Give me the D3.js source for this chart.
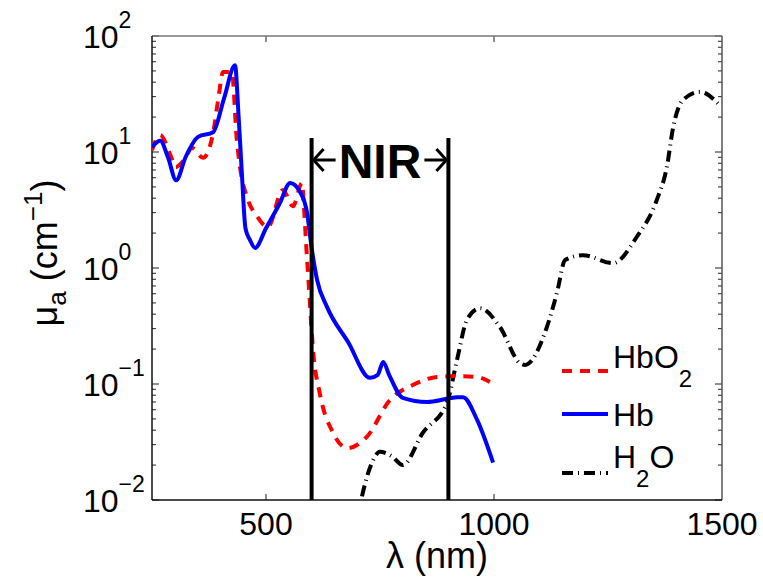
<!DOCTYPE html>
<html>
<head>
<meta charset="utf-8">
<script src="https://cdn.jsdelivr.net/npm/d3@7"></script>
<style>
  html, body { margin: 0; padding: 0; background: #fff; }
  svg { display: block; font-family: "Liberation Sans", Arial, Helvetica, sans-serif; }
</style>
</head>
<body>
<svg id="chart" width="763" height="578"></svg>
<script>
// Absorption spectra: wavelength (nm) and absorption coefficient (cm^-1)
const hbo2Wavelength = [250, 268, 290, 302, 320, 338, 362, 384, 395, 406, 425, 436, 443, 460, 480, 504, 537, 559, 579, 583, 588, 593, 597, 603, 618, 647, 678, 721, 772, 822, 875, 919, 963, 991];
const hbo2Mua        = [10.4, 14, 9.5, 7.4, 8.5, 10.8, 8.9, 14.6, 28, 49, 49, 12.7, 7.4, 3.9, 2.8, 2.25, 4.7, 3.4, 5.4, 3.5, 1.6, 0.8, 0.45, 0.2, 0.083, 0.038, 0.028, 0.035, 0.073, 0.098, 0.115, 0.117, 0.115, 0.104];

const hbWavelength = [250, 268, 285, 303, 324, 351, 384, 408, 432, 440, 447, 455, 465, 476, 500, 530, 553, 575, 590, 600, 612, 634, 680, 728, 745, 757, 770, 800, 853, 900, 919, 932, 963, 998];
const hbMua        = [11, 12.5, 9, 5.7, 9.1, 13.5, 14.8, 29, 56, 20, 6.6, 2.2, 1.74, 1.49, 2.2, 3.6, 5.4, 4.5, 3.0, 1.5, 0.79, 0.46, 0.23, 0.113, 0.12, 0.155, 0.12, 0.076, 0.07, 0.075, 0.077, 0.077, 0.049, 0.021];

const h2oWavelength = [700, 728, 750, 775, 800, 844, 897, 919, 941, 969, 1013, 1057, 1068, 1116, 1138, 1156, 1195, 1261, 1313, 1357, 1379, 1393, 1414, 1452, 1496];
const h2oMua        = [0.007, 0.019, 0.026, 0.024, 0.020, 0.038, 0.069, 0.162, 0.36, 0.45, 0.31, 0.151, 0.146, 0.31, 0.61, 1.17, 1.29, 1.10, 1.85, 3.86, 7.4, 16.4, 28, 33, 25];

const xTicks = [500, 1000, 1500];
const yDecades = [-2, -1, 0, 1, 2];
const nirBounds = [600, 900];
const legendLabels = [["Hb", "O", "2"], ["Hb"], ["H", "2", "O"]];

const svg = d3.select("#chart");
const plotLeft = 152, plotRight = 722, plotTop = 36, plotBottom = 500;

const x = d3.scaleLinear().domain([250, 1500]).range([plotLeft, plotRight]);
const y = d3.scaleLog().domain([1e-2, 1e2]).range([plotBottom, plotTop]);

svg.append("defs").append("clipPath").attr("id", "plotClip")
  .append("rect").attr("x", plotLeft).attr("y", plotTop)
  .attr("width", plotRight - plotLeft).attr("height", plotBottom - plotTop);

// minor + major log ticks, drawn inward on left and right
const yMinor = [];
for (let e = -2; e < 2; e++) for (let m = 2; m <= 9; m++) yMinor.push(m * Math.pow(10, e));
const yMajor = yDecades.map(e => Math.pow(10, e));

const tickG = svg.append("g").attr("stroke", "#222").attr("stroke-width", 1);
[[plotLeft, 1], [plotRight, -1]].forEach(([xe, dir]) => {
  tickG.selectAll(null).data(yMinor).enter().append("line")
    .attr("x1", xe).attr("x2", xe + dir * 4)
    .attr("y1", d => y(d)).attr("y2", d => y(d));
  tickG.selectAll(null).data(yMajor).enter().append("line")
    .attr("x1", xe).attr("x2", xe + dir * 7)
    .attr("y1", d => y(d)).attr("y2", d => y(d));
});
[[plotBottom, -1], [plotTop, 1]].forEach(([ye, dir]) => {
  tickG.selectAll(null).data(xTicks.slice(0, 2)).enter().append("line")
    .attr("x1", d => x(d)).attr("x2", d => x(d))
    .attr("y1", ye).attr("y2", ye + dir * 6);
});

// frame
svg.append("line").attr("x1", plotLeft).attr("x2", plotRight).attr("y1", plotTop).attr("y2", plotTop)
  .attr("stroke", "#777").attr("stroke-width", 1.5);
svg.append("line").attr("x1", plotRight).attr("x2", plotRight).attr("y1", plotTop).attr("y2", plotBottom)
  .attr("stroke", "#555").attr("stroke-width", 1.5);
svg.append("line").attr("x1", plotLeft).attr("x2", plotLeft).attr("y1", plotTop).attr("y2", plotBottom)
  .attr("stroke", "#111").attr("stroke-width", 1.5);
svg.append("line").attr("x1", plotLeft).attr("x2", plotRight).attr("y1", plotBottom).attr("y2", plotBottom)
  .attr("stroke", "#111").attr("stroke-width", 1.5);

// y tick labels 10^n
const yLab = svg.append("g").attr("font-size", 32).attr("fill", "#000");
yDecades.forEach(e => {
  const t = yLab.append("text").attr("x", 83).attr("y", y(Math.pow(10, e)) + 12);
  t.append("tspan").text("10");
  t.append("tspan").attr("font-size", 23).attr("dy", -20)
    .text(e < 0 ? "\u2212" + Math.abs(e) : String(e));
});

// x tick labels
svg.append("g").attr("font-size", 32).attr("text-anchor", "middle")
  .selectAll("text").data(xTicks).enter().append("text")
  .attr("x", d => x(d)).attr("y", 535).text(d => d);

// axis titles
svg.append("text").attr("x", x(875)).attr("y", 568).attr("font-size", 36)
  .attr("text-anchor", "middle").text("\u03bb (nm)");

const yt = svg.append("text").attr("transform", "translate(57,253) rotate(-90)")
  .attr("font-size", 36).attr("text-anchor", "middle");
yt.append("tspan").text("\u03bc");
yt.append("tspan").attr("font-size", 26).attr("dy", 9).text("a");
yt.append("tspan").attr("dy", -9).text(" (cm");
yt.append("tspan").attr("font-size", 26).attr("dy", -15).text("\u22121");
yt.append("tspan").attr("dy", 15).text(")");

// spectra
const series = [
  { wl: hbo2Wavelength, mu: hbo2Mua, color: "#ff0000", dash: "10,8" },
  { wl: hbWavelength,   mu: hbMua,   color: "#0000ff", dash: null },
  { wl: h2oWavelength,  mu: h2oMua,  color: "#000000", dash: "11,5,1,5" }
];
const line = d3.line().x(d => x(d[0])).y(d => y(d[1])).curve(d3.curveMonotoneX);
const plotG = svg.append("g").attr("clip-path", "url(#plotClip)");
[series[2], series[0], series[1]].forEach(s => {
  plotG.append("path")
    .datum(d3.zip(s.wl, s.mu))
    .attr("d", line)
    .attr("fill", "none")
    .attr("stroke", s.color)
    .attr("stroke-width", 4)
    .attr("stroke-dasharray", s.dash);
});

// NIR window
const nirTop = 138, arrowY = 160;
const nirG = svg.append("g").attr("stroke", "#000").attr("fill", "none");
nirBounds.forEach(w => {
  nirG.append("line").attr("x1", x(w)).attr("x2", x(w))
    .attr("y1", nirTop).attr("y2", plotBottom).attr("stroke-width", 4);
});
const xl = x(nirBounds[0]) + 2, xr = x(nirBounds[1]) - 2;
nirG.append("line").attr("x1", xl).attr("x2", xl + 22).attr("y1", arrowY).attr("y2", arrowY).attr("stroke-width", 3);
nirG.append("path").attr("d", `M${xl + 10},${arrowY - 11} L${xl},${arrowY} L${xl + 10},${arrowY + 11}`).attr("stroke-width", 3);
nirG.append("line").attr("x1", xr - 22).attr("x2", xr).attr("y1", arrowY).attr("y2", arrowY).attr("stroke-width", 3);
nirG.append("path").attr("d", `M${xr - 10},${arrowY - 11} L${xr},${arrowY} L${xr - 10},${arrowY + 11}`).attr("stroke-width", 3);
svg.append("text").attr("x", (x(nirBounds[0]) + x(nirBounds[1])) / 2).attr("y", 178)
  .attr("text-anchor", "middle").attr("font-size", 48).attr("font-weight", "bold")
  .text("NIR");

// legend
const legY = [371, 414, 473];
const legG = svg.append("g");
series.forEach((s, i) => {
  legG.append("line").attr("x1", 562).attr("x2", 608)
    .attr("y1", legY[i]).attr("y2", legY[i])
    .attr("stroke", s.color).attr("stroke-width", 4)
    .attr("stroke-dasharray", s.dash);
});
const legText = (yb, parts) => {
  const t = legG.append("text").attr("x", 613).attr("y", yb).attr("font-size", 32);
  parts.forEach(p => {
    const ts = t.append("tspan").text(p.t);
    if (p.sub) ts.attr("font-size", 24).attr("dy", 19);
    if (p.back) ts.attr("dy", -19);
  });
};
legText(368, [{ t: legendLabels[0][0] + legendLabels[0][1] }, { t: legendLabels[0][2], sub: true }]);
legText(426, [{ t: legendLabels[1][0] }]);
legText(468, [{ t: legendLabels[2][0] }, { t: legendLabels[2][1], sub: true }, { t: legendLabels[2][2], back: true }]);
</script>
</body>
</html>
